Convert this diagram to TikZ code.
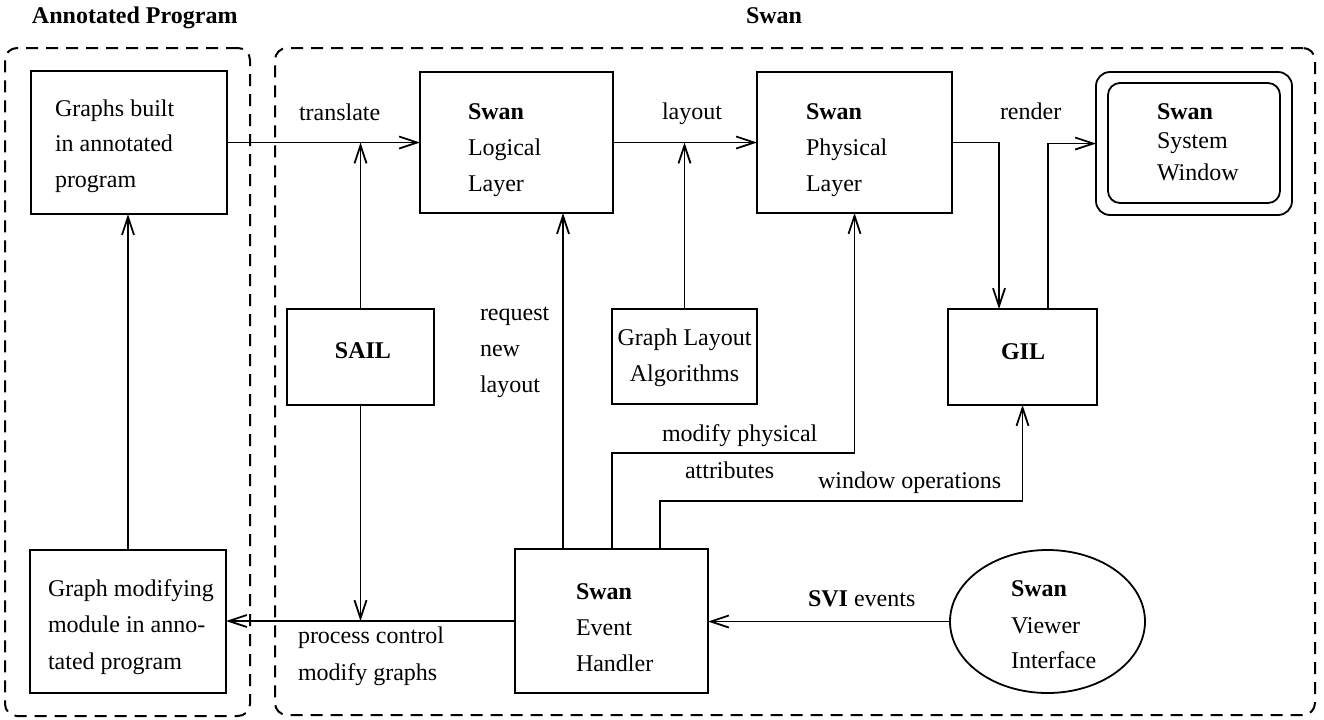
\documentclass[tikz,border=0pt]{standalone}
\usepackage{fontspec}
\setmainfont{Liberation Serif}
\usetikzlibrary{arrows.meta,fit,shapes.geometric,calc}
\begin{document}
\begin{tikzpicture}[x=0.5pt,y=-0.5pt,
  every node/.style={font=\fontsize{12pt}{14pt}\selectfont, inner sep=0pt, outer sep=0pt},
  box/.style={draw, line width=0.9pt, inner sep=0pt},
  frame/.style={draw, line width=1pt, dash pattern=on 6pt off 4pt, rounded corners=6pt, inner sep=0pt},
  txt/.style={anchor=base west},
  ctxt/.style={anchor=base},
  link/.style={line width=0.9pt},
  arr/.style={link, -{Straight Barb[length=9pt,width=6pt]}},
]
\useasboundingbox (0,0) rectangle (1324,719);

% groups
\node[frame, fit={(5,48) (250,716)}] (annfr) {};
\node[frame, fit={(275,48) (1315,715)}] (swanfr) {};
\node[txt] (anntitle) at (32,23) {\textbf{Annotated Program}};
\node[txt] (swantitle) at (746,23) {\textbf{Swan}};

% components
\node[box, fit={(31,71) (227,214)}] (graphs) {};
\node[box, fit={(30,550) (226,693)}] (gmod) {};
\node[box, fit={(420,72) (613,213)}] (logical) {};
\node[box, fit={(757,72) (952,213)}] (physical) {};
\node[box, rounded corners=7pt, fit={(1096,72) (1292,215)}] (syswin) {};
\draw[line width=0.9pt, rounded corners=6pt] ($(syswin.north west)+(12,11)$) rectangle ($(syswin.south east)+(-12,-12)$);
\node[box, fit={(287,309) (434,405)}] (sail) {};
\node[box, fit={(612,309) (757,404)}] (glayout) {};
\node[box, fit={(948,309) (1097,405)}] (gil) {};
\node[box, fit={(515,549) (708,693)}] (evh) {};
\node[box, ellipse, minimum width=97.5pt, minimum height=71.5pt] (svi) at (1047.5,621.5) {};

% texts inside components
\node[txt] (g1) at (55,116) {Graphs built};
\node[txt] (g2) at (55,151) {in annotated};
\node[txt] (g3) at (55,187) {program};
\node[txt] (l1) at (468,119) {\textbf{Swan}};
\node[txt] (l2) at (468,155) {Logical};
\node[txt] (l3) at (468,191) {Layer};
\node[txt] (p1) at (806,119) {\textbf{Swan}};
\node[txt] (p2) at (806,155) {Physical};
\node[txt] (p3) at (806,191) {Layer};
\node[txt] (w1) at (1157,119) {\textbf{Swan}};
\node[txt] (w2) at (1157,148) {System};
\node[txt] (w3) at (1157,180) {Window};
\node[ctxt] (s1) at (363,358) {\textbf{SAIL}};
\node[ctxt] (a1) at (684.5,345) {Graph Layout};
\node[ctxt] (a2) at (684.5,381) {Algorithms};
\node[ctxt] (i1) at (1023,359) {\textbf{GIL}};
\node[txt] (e1) at (576,599) {\textbf{Swan}};
\node[txt] (e2) at (576,635) {Event};
\node[txt] (e3) at (576,671) {Handler};
\node[txt] (m1) at (48,596) {Graph modifying};
\node[txt] (m2) at (48,632) {module in anno-};
\node[txt] (m3) at (48,669) {tated program};
\node[txt] (v1) at (1011,596) {\textbf{Swan}};
\node[txt] (v2) at (1011,633) {Viewer};
\node[txt] (v3) at (1011,668) {Interface};

% connector labels
\node[txt] (lbtranslate) at (299,120) {translate};
\node[txt] (lblayout) at (662,119) {layout};
\node[txt] (lbrender) at (1000,119) {render};
\node[txt] (lbreq1) at (480,320) {request};
\node[txt] (lbreq2) at (480,356) {new};
\node[txt] (lbreq3) at (480,392) {layout};
\node[txt] (lbmod1) at (662,441) {modify physical};
\node[txt] (lbmod2) at (685,478) {attributes};
\node[txt] (lbwin) at (818,488) {window operations};
\node[txt] (lbproc1) at (298,643) {process control};
\node[txt] (lbproc2) at (298,680) {modify graphs};
\node[txt] (lbsvi) at (808,606) {\textbf{SVI} events};

% connectors
\coordinate (modY) at (0,453);
\coordinate (winY) at (0,501);
\coordinate (reqX) at ($(evh.north west)+(48,0)$);
\coordinate (modX) at ($(evh.north west)+(97,0)$);
\coordinate (winX) at ($(evh.north west)+(145,0)$);
\coordinate (gilIn) at ($(gil.north west)+(51,0)$);
\coordinate (gilOut) at ($(gil.north west)+(100,0)$);

\draw[arr] (graphs.east) -- (logical.west);
\draw[arr] (sail.north) -- (sail.north |- graphs.east);
\draw[arr] (logical.east) -- (physical.west);
\draw[arr] (glayout.north) -- (glayout.north |- logical.east);
\draw[arr] (physical.east) -| (gilIn);
\draw[arr] (gilOut) |- (syswin.west);
\draw[arr] (sail.south) -- (sail.south |- evh.west);
\draw[arr] (evh.west) -- (gmod.east |- evh.west);
\draw[arr] (gmod.north) -- (gmod.north |- graphs.south);
\draw[arr] (reqX) -- (reqX |- logical.south);
\draw[arr] (modX) -- (modX |- modY) -| (physical.south);
\draw[arr] (winX) -- (winX |- winY) -| (gil.south);
\draw[arr] (svi.west) -- (evh.east |- svi.west);
\end{tikzpicture}
\end{document}
